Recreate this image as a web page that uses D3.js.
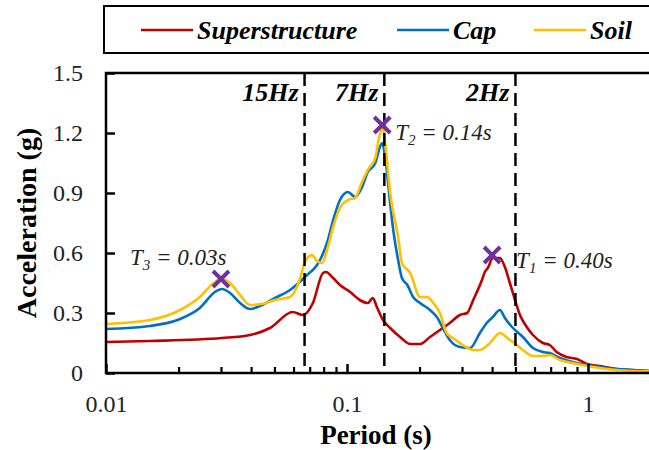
<!DOCTYPE html>
<html>
<head>
  <meta charset="utf-8">
  <script src="https://cdn.jsdelivr.net/npm/d3@7"></script>
  <style>
    body { margin: 0; background: #fff; }
    svg { display: block; font-family: "Liberation Serif", "Times New Roman", serif; }
  </style>
</head>
<body>
  <svg id="chart"></svg>

  <script>
    // Response spectra (period in s, acceleration in g)
    const superPeriod = [0.01, 0.0152, 0.0303, 0.0396, 0.0479, 0.0595, 0.0656, 0.0722, 0.0795, 0.0818, 0.0876, 0.0935, 0.103, 0.113, 0.122, 0.128, 0.133, 0.141, 0.151, 0.166, 0.183, 0.201, 0.221, 0.243, 0.267, 0.294, 0.315, 0.334, 0.363, 0.373, 0.384, 0.403, 0.431, 0.452, 0.474, 0.498, 0.522, 0.557, 0.591, 0.65, 0.694, 0.741, 0.815, 0.9, 0.99, 1.12, 1.31, 1.53, 1.79];
    const superAcc = [0.155, 0.16, 0.175, 0.19, 0.225, 0.305, 0.29, 0.35, 0.5, 0.505, 0.475, 0.44, 0.405, 0.365, 0.35, 0.375, 0.33, 0.265, 0.225, 0.18, 0.145, 0.145, 0.18, 0.215, 0.25, 0.29, 0.3, 0.365, 0.465, 0.505, 0.525, 0.575, 0.575, 0.53, 0.45, 0.365, 0.29, 0.23, 0.19, 0.15, 0.14, 0.105, 0.08, 0.07, 0.045, 0.035, 0.02, 0.015, 0.01];

    const capPeriod = [0.01, 0.0152, 0.0203, 0.0245, 0.0283, 0.0303, 0.0327, 0.036, 0.0396, 0.0435, 0.0502, 0.058, 0.0669, 0.0773, 0.0826, 0.0876, 0.0935, 0.101, 0.108, 0.115, 0.122, 0.131, 0.137, 0.14, 0.144, 0.151, 0.155, 0.163, 0.169, 0.178, 0.188, 0.201, 0.221, 0.236, 0.25, 0.267, 0.294, 0.324, 0.356, 0.38, 0.403, 0.431, 0.452, 0.484, 0.537, 0.591, 0.65, 0.694, 0.764, 0.865, 0.99, 1.2, 1.53, 1.79];
    const capAcc = [0.22, 0.235, 0.27, 0.325, 0.405, 0.42, 0.4, 0.35, 0.32, 0.335, 0.375, 0.415, 0.48, 0.565, 0.65, 0.765, 0.865, 0.905, 0.88, 0.925, 1.005, 1.05, 1.13, 1.15, 1.08, 0.85, 0.73, 0.565, 0.475, 0.44, 0.38, 0.35, 0.315, 0.28, 0.225, 0.165, 0.13, 0.125, 0.2, 0.25, 0.28, 0.315, 0.275, 0.23, 0.18, 0.125, 0.105, 0.1, 0.075, 0.055, 0.04, 0.025, 0.015, 0.01];

    const soilPeriod = [0.01, 0.0152, 0.0203, 0.0245, 0.0283, 0.0303, 0.0327, 0.036, 0.0396, 0.0443, 0.0502, 0.058, 0.0638, 0.0669, 0.0715, 0.0751, 0.0788, 0.0826, 0.0876, 0.0935, 0.101, 0.108, 0.115, 0.122, 0.131, 0.136, 0.141, 0.145, 0.151, 0.163, 0.169, 0.183, 0.201, 0.215, 0.228, 0.243, 0.259, 0.275, 0.302, 0.334, 0.356, 0.392, 0.431, 0.474, 0.489, 0.537, 0.591, 0.65, 0.694, 0.764, 0.865, 0.99, 1.2, 1.53, 1.79];
    const soilAcc = [0.245, 0.265, 0.315, 0.38, 0.455, 0.47, 0.45, 0.39, 0.34, 0.345, 0.365, 0.38, 0.47, 0.555, 0.59, 0.56, 0.55, 0.615, 0.73, 0.825, 0.865, 0.875, 0.95, 1.015, 1.075, 1.18, 1.225, 1.115, 0.9, 0.68, 0.55, 0.5, 0.38, 0.38, 0.35, 0.3, 0.2, 0.175, 0.14, 0.115, 0.115, 0.15, 0.2, 0.165, 0.155, 0.115, 0.085, 0.085, 0.09, 0.065, 0.05, 0.035, 0.02, 0.01, 0.008];

    const seriesNames = ["Superstructure", "Cap", "Soil"];
    const seriesColors = ["#C00000", "#0070C0", "#FFC000"];

    // Dominant frequency lines and identified periods
    const freqHz = [15, 7, 2];
    const peakLabels = ["3", "2", "1"];
    const peakPeriod = [0.03, 0.14, 0.40];
    const peakAcc = [0.47, 1.24, 0.59];

    const yTicks = [0, 0.3, 0.6, 0.9, 1.2, 1.5];
    const xTicks = [0.01, 0.1, 1];

    const width = 649, height = 450;
    const margin = { top: 73, left: 106, bottom: 373 };

    const x = d3.scaleLog().domain([0.01, 2]).range([margin.left, margin.left + 241 * Math.log10(200)]);
    const y = d3.scaleLinear().domain([0, 1.5]).range([margin.bottom, margin.top]);

    const svg = d3.select("#chart")
      .attr("width", width)
      .attr("height", height);

    // Legend box
    svg.append("rect")
      .attr("x", 104).attr("y", 6)
      .attr("width", 600).attr("height", 47)
      .attr("fill", "none").attr("stroke", "#000").attr("stroke-width", 2);

    const legendX = [141, 397, 534];
    const legend = svg.append("g").selectAll("g")
      .data(seriesNames)
      .join("g")
      .attr("transform", (d, i) => `translate(${legendX[i]},30)`);
    legend.append("line")
      .attr("x1", 0).attr("x2", 52)
      .attr("stroke", (d, i) => seriesColors[i])
      .attr("stroke-width", 2.5);
    legend.append("text")
      .attr("x", 56).attr("y", 9)
      .attr("font-size", 26)
      .attr("font-weight", "bold")
      .attr("font-style", "italic")
      .text(d => d);

    svg.append("defs").append("clipPath").attr("id", "plot")
      .append("rect")
      .attr("x", margin.left).attr("y", margin.top - 20)
      .attr("width", width - margin.left).attr("height", margin.bottom - margin.top + 20);

    // Curves
    const line = d3.line()
      .x(d => x(d[0]))
      .y(d => y(d[1]))
      .curve(d3.curveMonotoneX);

    const series = [
      d3.zip(superPeriod, superAcc),
      d3.zip(capPeriod, capAcc),
      d3.zip(soilPeriod, soilAcc)
    ];

    svg.append("g")
      .attr("clip-path", "url(#plot)")
      .selectAll("path")
      .data(series)
      .join("path")
      .attr("d", d => line(d))
      .attr("fill", "none")
      .attr("stroke", (d, i) => seriesColors[i])
      .attr("stroke-width", 2.6)
      .attr("stroke-linejoin", "round");

    // Dashed frequency lines
    const freq = svg.append("g");
    freq.selectAll("line")
      .data(freqHz)
      .join("line")
      .attr("x1", d => x(1 / d)).attr("x2", d => x(1 / d))
      .attr("y1", margin.top).attr("y2", margin.bottom)
      .attr("stroke", "#000")
      .attr("stroke-width", 2.5)
      .attr("stroke-dasharray", "13,7");
    freq.selectAll("text")
      .data(freqHz)
      .join("text")
      .attr("x", d => x(1 / d) - 6)
      .attr("y", 101)
      .attr("text-anchor", "end")
      .attr("font-size", 26)
      .attr("font-weight", "bold")
      .attr("font-style", "italic")
      .text(d => d + "Hz");

    // Frame and axes
    svg.append("rect")
      .attr("x", margin.left).attr("y", margin.top)
      .attr("width", 700).attr("height", margin.bottom - margin.top)
      .attr("fill", "none").attr("stroke", "#000").attr("stroke-width", 2.5);

    const yAxis = d3.axisLeft(y)
      .tickValues(yTicks)
      .tickSize(-9)
      .tickPadding(23)
      .tickFormat(d => d === 0 ? "0" : d3.format(".1f")(d));
    svg.append("g")
      .attr("transform", `translate(${margin.left},0)`)
      .call(yAxis)
      .call(g => g.select(".domain").remove())
      .call(g => g.selectAll("line").attr("stroke-width", 2.5))
      .call(g => g.selectAll("text")
        .attr("font-family", "Liberation Serif, serif")
        .attr("font-size", 24)
        .attr("fill", "#222"));

    const minorTicks = [];
    [0.01, 0.1, 1].forEach(dec => {
      for (let k = 2; k <= 9; k++) if (dec * k <= 2) minorTicks.push(dec * k);
    });

    svg.append("g")
      .attr("transform", `translate(0,${margin.bottom})`)
      .call(d3.axisBottom(x).tickValues(minorTicks).tickSize(-6).tickFormat(""))
      .call(g => g.select(".domain").remove())
      .call(g => g.selectAll("line").attr("stroke-width", 2.2));

    svg.append("g")
      .attr("transform", `translate(0,${margin.bottom})`)
      .call(d3.axisBottom(x).tickValues(xTicks).tickSize(-9).tickPadding(22).tickFormat(d => String(d)))
      .call(g => g.select(".domain").remove())
      .call(g => g.selectAll("line").attr("stroke-width", 2.5))
      .call(g => g.selectAll("text")
        .attr("font-family", "Liberation Serif, serif")
        .attr("font-size", 24)
        .attr("fill", "#222"));

    // Axis titles
    svg.append("text")
      .attr("x", x(0.1) + 29)
      .attr("y", 444)
      .attr("text-anchor", "middle")
      .attr("font-size", 27)
      .attr("font-weight", "bold")
      .text("Period (s)");

    svg.append("text")
      .attr("transform", `translate(36,${(margin.top + margin.bottom) / 2}) rotate(-90)`)
      .attr("text-anchor", "middle")
      .attr("font-size", 28)
      .attr("font-weight", "bold")
      .text("Acceleration (g)");

    // Peak markers
    const markerSize = 8;
    svg.append("g")
      .selectAll("path")
      .data(peakPeriod)
      .join("path")
      .attr("d", (d, i) => {
        const cx = x(d), cy = y(peakAcc[i]), s = markerSize;
        return `M${cx - s},${cy - s}L${cx + s},${cy + s}M${cx - s},${cy + s}L${cx + s},${cy - s}`;
      })
      .attr("stroke", "#7030A0")
      .attr("stroke-width", 4);

    // Peak labels: offsets relative to each marker
    const labelDx = [-91, 13, 24];
    const labelDy = [-14, 15, 13];
    const labels = svg.append("g")
      .selectAll("text")
      .data(peakPeriod)
      .join("text")
      .attr("x", (d, i) => x(d) + labelDx[i])
      .attr("y", (d, i) => y(peakAcc[i]) + labelDy[i])
      .attr("font-size", 23)
      .attr("font-style", "italic")
      .attr("fill", "#222");
    labels.append("tspan").text("T");
    labels.append("tspan")
      .attr("font-size", 15)
      .attr("dy", 5)
      .text((d, i) => peakLabels[i]);
    labels.append("tspan")
      .attr("dy", -5)
      .text(d => " = " + d3.format(".2f")(d) + "s");
  </script>
</body>
</html>
